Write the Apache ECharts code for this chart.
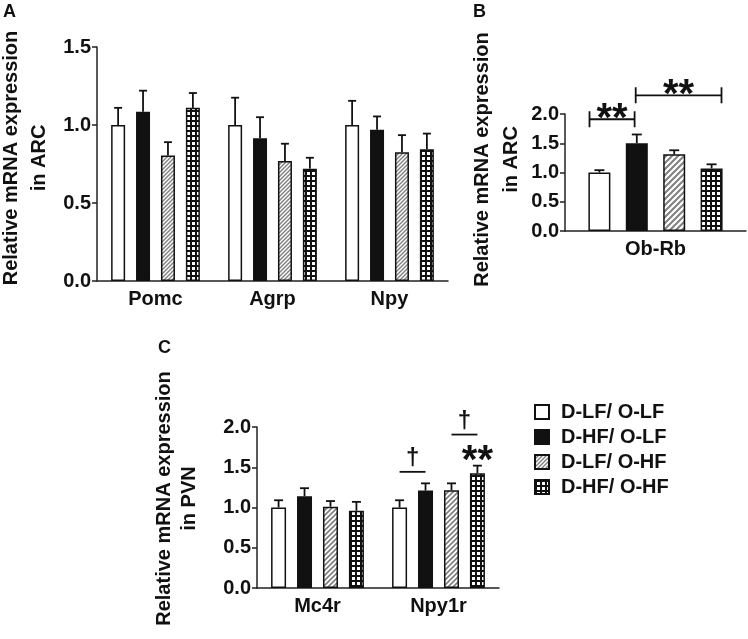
<!DOCTYPE html>
<html>
<head>
<meta charset="utf-8">
<script src="https://cdn.jsdelivr.net/npm/echarts@6/dist/echarts.min.js"></script>
<style>html,body{margin:0;padding:0;background:#fff}#c{width:748px;height:639px}</style>
</head>
<body>
<div id="c"></div>
<script>
// ---------- data ----------
const groups = ['D-LF/ O-LF', 'D-HF/ O-LF', 'D-LF/ O-HF', 'D-HF/ O-HF'];

const catsA = ['Pomc', 'Agrp', 'Npy'];
const aLFLF = [1.00, 1.00, 1.00];   const aLFLFsem = [0.11, 0.175, 0.155];
const aHFLF = [1.085, 0.915, 0.97]; const aHFLFsem = [0.135, 0.135, 0.085];
const aLFHF = [0.805, 0.77, 0.825]; const aLFHFsem = [0.085, 0.11, 0.11];
const aHFHF = [1.11, 0.72, 0.845];  const aHFHFsem = [0.095, 0.07, 0.10];

const catsB = ['Ob-Rb'];
const bLFLF = [1.00];  const bLFLFsem = [0.04];
const bHFLF = [1.50];  const bHFLFsem = [0.15];
const bLFHF = [1.31];  const bLFHFsem = [0.07];
const bHFHF = [1.07];  const bHFHFsem = [0.07];

const catsC = ['Mc4r', 'Npy1r'];
const cLFLF = [1.00, 1.00];   const cLFLFsem = [0.09, 0.09];
const cHFLF = [1.14, 1.21];   const cHFLFsem = [0.10, 0.09];
const cLFHF = [1.01, 1.215];  const cLFHFsem = [0.07, 0.085];
const cHFHF = [0.96, 1.425];  const cHFHFsem = [0.11, 0.095];

const ticksA = [0, 0.5, 1.0, 1.5];
const ticksBC = [0, 0.5, 1.0, 1.5, 2.0];

// significance marks: [category, fromBar, toBar, yValue]
const sigB = [[0, 0, 1, 1.91], [0, 1, 3, 2.32]];
const sigBText = ['**', '**'];
const sigBKind = ['bracket', 'bracket'];
const sigC = [[1, 0, 1, 1.443], [1, 2, 3, 1.906], [1, 3, 3, 1.57]];
const sigCText = ['\u2020', '\u2020', '**'];
const sigCKind = ['line', 'line', 'text'];

// ---------- styles ----------
const FONT = "'Liberation Sans', Arial, Helvetica, sans-serif";
const INK = '#111';

function hatch(size, lw) {
  const c = document.createElement('canvas');
  c.width = size; c.height = size;
  const g = c.getContext('2d');
  g.fillStyle = '#fff'; g.fillRect(0, 0, size, size);
  g.strokeStyle = '#808080'; g.lineWidth = lw;
  g.beginPath();
  g.moveTo(-1, size + 1); g.lineTo(size + 1, -1);
  g.moveTo(-1, 1); g.lineTo(1, -1);
  g.moveTo(size - 1, size + 1); g.lineTo(size + 1, size - 1);
  g.stroke();
  return { image: c, repeat: 'repeat' };
}
function cross(size, hole) {
  const c = document.createElement('canvas');
  c.width = size; c.height = size;
  const g = c.getContext('2d');
  g.fillStyle = '#111'; g.fillRect(0, 0, size, size);
  g.fillStyle = '#fff'; g.fillRect(size - hole, size - hole, hole, hole);
  return { image: c, repeat: 'repeat' };
}

const panels = [
  { cats: catsA, vals: [aLFLF, aHFLF, aLFHF, aHFHF], sems: [aLFLFsem, aHFLFsem, aLFHFsem, aHFHFsem],
    bw: 14, gap: 0.78, cap: 8, fills: ['#fff', '#111', hatch(4, 1.4), cross(5, 3)] },
  { cats: catsB, vals: [bLFLF, bHFLF, bLFHF, bHFHF], sems: [bLFLFsem, bHFLFsem, bLFHFsem, bHFHFsem],
    bw: 22, gap: 0.70, cap: 10, fills: ['#fff', '#111', hatch(6, 2), cross(5, 3)] },
  { cats: catsC, vals: [cLFLF, cHFLF, cLFHF, cHFHF], sems: [cLFLFsem, cHFLFsem, cLFHFsem, cHFHFsem],
    bw: 15, gap: 0.73, cap: 9, fills: ['#fff', '#111', hatch(5, 1.7), cross(5, 3)] }
];

const axisLineStyle = { color: '#222', width: 1.5 };
const labelStyle = { color: INK, fontSize: 20, fontWeight: 'bold', fontFamily: FONT };

const grids = [
  { left: 97, top: 47, width: 351, height: 234 },
  { left: 565, top: 114, width: 181, height: 117 },
  { left: 257, top: 427, width: 242, height: 161 }
].map(g => Object.assign(g, { outerBoundsMode: 'none', containLabel: false }));

const xAxes = panels.map((p, i) => ({
  type: 'category', gridIndex: i, data: p.cats,
  axisLine: { lineStyle: axisLineStyle },
  axisTick: { alignWithLabel: true, length: 5, lineStyle: axisLineStyle },
  axisLabel: Object.assign({ margin: 8 }, labelStyle)
}));

const yNames = ['Relative mRNA expression\nin ARC', 'Relative mRNA expression\nin ARC', 'Relative mRNA expression\nin PVN'];
const yGaps = [44, 39, 55];
const yLH = [28, 29, 25];
const yPad = [12, 26, 18];
const yAxes = panels.map((p, i) => ({
  type: 'value', gridIndex: i, min: 0, max: i === 0 ? ticksA[ticksA.length - 1] : ticksBC[ticksBC.length - 1], interval: 0.5,
  axisLine: { show: true, lineStyle: axisLineStyle },
  axisTick: { show: true, length: 5, lineStyle: axisLineStyle },
  splitLine: { show: false },
  axisLabel: Object.assign({ margin: 6, formatter: v => v.toFixed(1) }, labelStyle),
  name: yNames[i], nameLocation: 'middle', nameRotate: 90, nameGap: yGaps[i],
  nameTextStyle: { color: INK, fontSize: 20, fontWeight: 'bold', fontFamily: FONT, lineHeight: yLH[i], align: 'center', padding: [0, 0, 0, yPad[i]] }
}));

const series = [];
panels.forEach((p, gi) => {
  const step = p.bw * (1 + p.gap);
  groups.forEach((name, si) => {
    series.push({
      name, type: 'bar', xAxisIndex: gi, yAxisIndex: gi, data: p.vals[si],
      barWidth: p.bw, barGap: (p.gap * 100) + '%', z: 2,
      itemStyle: { color: p.fills[si], borderColor: INK, borderWidth: 1.5 },
      emphasis: { disabled: true }
    });
  });
  const err = [];
  p.vals.forEach((arr, si) => arr.forEach((v, ci) => err.push([ci, v, v + p.sems[si][ci], si])));
  series.push({
    type: 'custom', xAxisIndex: gi, yAxisIndex: gi, data: err, silent: true, z: 3,
    encode: { x: 0, y: [1, 2] },
    renderItem: (params, api) => {
      const c = api.value(0), s = api.value(3);
      const p0 = api.coord([c, api.value(1)]);
      const p1 = api.coord([c, api.value(2)]);
      const x = p0[0] + (s - 1.5) * step;
      const st = { stroke: INK, lineWidth: 1.8 };
      return { type: 'group', children: [
        { type: 'line', shape: { x1: x, y1: p0[1], x2: x, y2: p1[1] }, style: st },
        { type: 'line', shape: { x1: x - p.cap / 2, y1: p1[1], x2: x + p.cap / 2, y2: p1[1] }, style: st }
      ] };
    }
  });
});

function sigSeries(gi, data, texts, kinds) {
  const p = panels[gi];
  const step = p.bw * (1 + p.gap);
  return {
    type: 'custom', xAxisIndex: gi, yAxisIndex: gi, data, silent: true, z: 4,
    encode: { x: 0, y: 3 },
    renderItem: (params, api) => {
      const i = params.dataIndex;
      const c = api.value(0), f = api.value(1), t = api.value(2);
      const pt = api.coord([c, api.value(3)]);
      const kind = kinds[i], txt = texts[i];
      const st = { stroke: INK, lineWidth: 1.8 };
      const children = [];
      let xa = pt[0] + (f - 1.5) * step, xb = pt[0] + (t - 1.5) * step;
      const y = pt[1];
      if (kind === 'bracket') {
        xa -= p.bw * 0.45; xb += (t === 3 ? p.bw * 0.45 : -p.bw * 0.1);
        if (f === 1) xa = pt[0] + (f - 1.5) * step - p.bw * 0.05;
        children.push({ type: 'line', shape: { x1: xa, y1: y, x2: xb, y2: y }, style: st });
        children.push({ type: 'line', shape: { x1: xa, y1: y - 8, x2: xa, y2: y + 8 }, style: st });
        children.push({ type: 'line', shape: { x1: xb, y1: y - 8, x2: xb, y2: y + 8 }, style: st });
        children.push({ type: 'text', style: { text: txt, x: (xa + xb) / 2, y: y + 1, align: 'center', verticalAlign: 'middle', textAlign: 'center', textVerticalAlign: 'middle', font: 'bold 40px ' + FONT, fill: INK } });
      } else if (kind === 'line') {
        children.push({ type: 'line', shape: { x1: xa, y1: y, x2: xb, y2: y }, style: st });
        children.push({ type: 'text', style: { text: txt, x: (xa + xb) / 2, y: y - 13, align: 'center', verticalAlign: 'middle', textAlign: 'center', textVerticalAlign: 'middle', font: 'bold 24px ' + FONT, fill: INK } });
      } else {
        children.push({ type: 'text', style: { text: txt, x: xa, y: y, align: 'center', verticalAlign: 'middle', textAlign: 'center', textVerticalAlign: 'middle', font: 'bold 40px ' + FONT, fill: INK } });
      }
      return { type: 'group', children };
    }
  };
}
series.push(sigSeries(1, sigB, sigBText, sigBKind));
series.push(sigSeries(2, sigC, sigCText, sigCKind));

const letterStyle = { color: INK, fontSize: 18, fontWeight: 'bold', fontFamily: FONT };
const option = {
  animation: false,
  backgroundColor: '#fff',
  title: [
    { text: 'A', left: 3, top: 3, textStyle: letterStyle, padding: 0 },
    { text: 'B', left: 473, top: 3, textStyle: letterStyle, padding: 0 },
    { text: 'C', left: 158, top: 339, textStyle: letterStyle, padding: 0 }
  ],
  legend: {
    orient: 'vertical', left: 534, top: 402, padding: 0, itemWidth: 14, itemHeight: 14, itemGap: 5,
    icon: 'rect', data: groups, selectedMode: false,
    textStyle: { color: INK, fontSize: 20, fontWeight: 'bold', fontFamily: FONT, lineHeight: 20, padding: [0, 0, 0, 7] }
  },
  grid: grids, xAxis: xAxes, yAxis: yAxes, series
};
const chart = echarts.init(document.getElementById('c'), null, { renderer: 'canvas' });
chart.setOption(option);
</script>
</body>
</html>
